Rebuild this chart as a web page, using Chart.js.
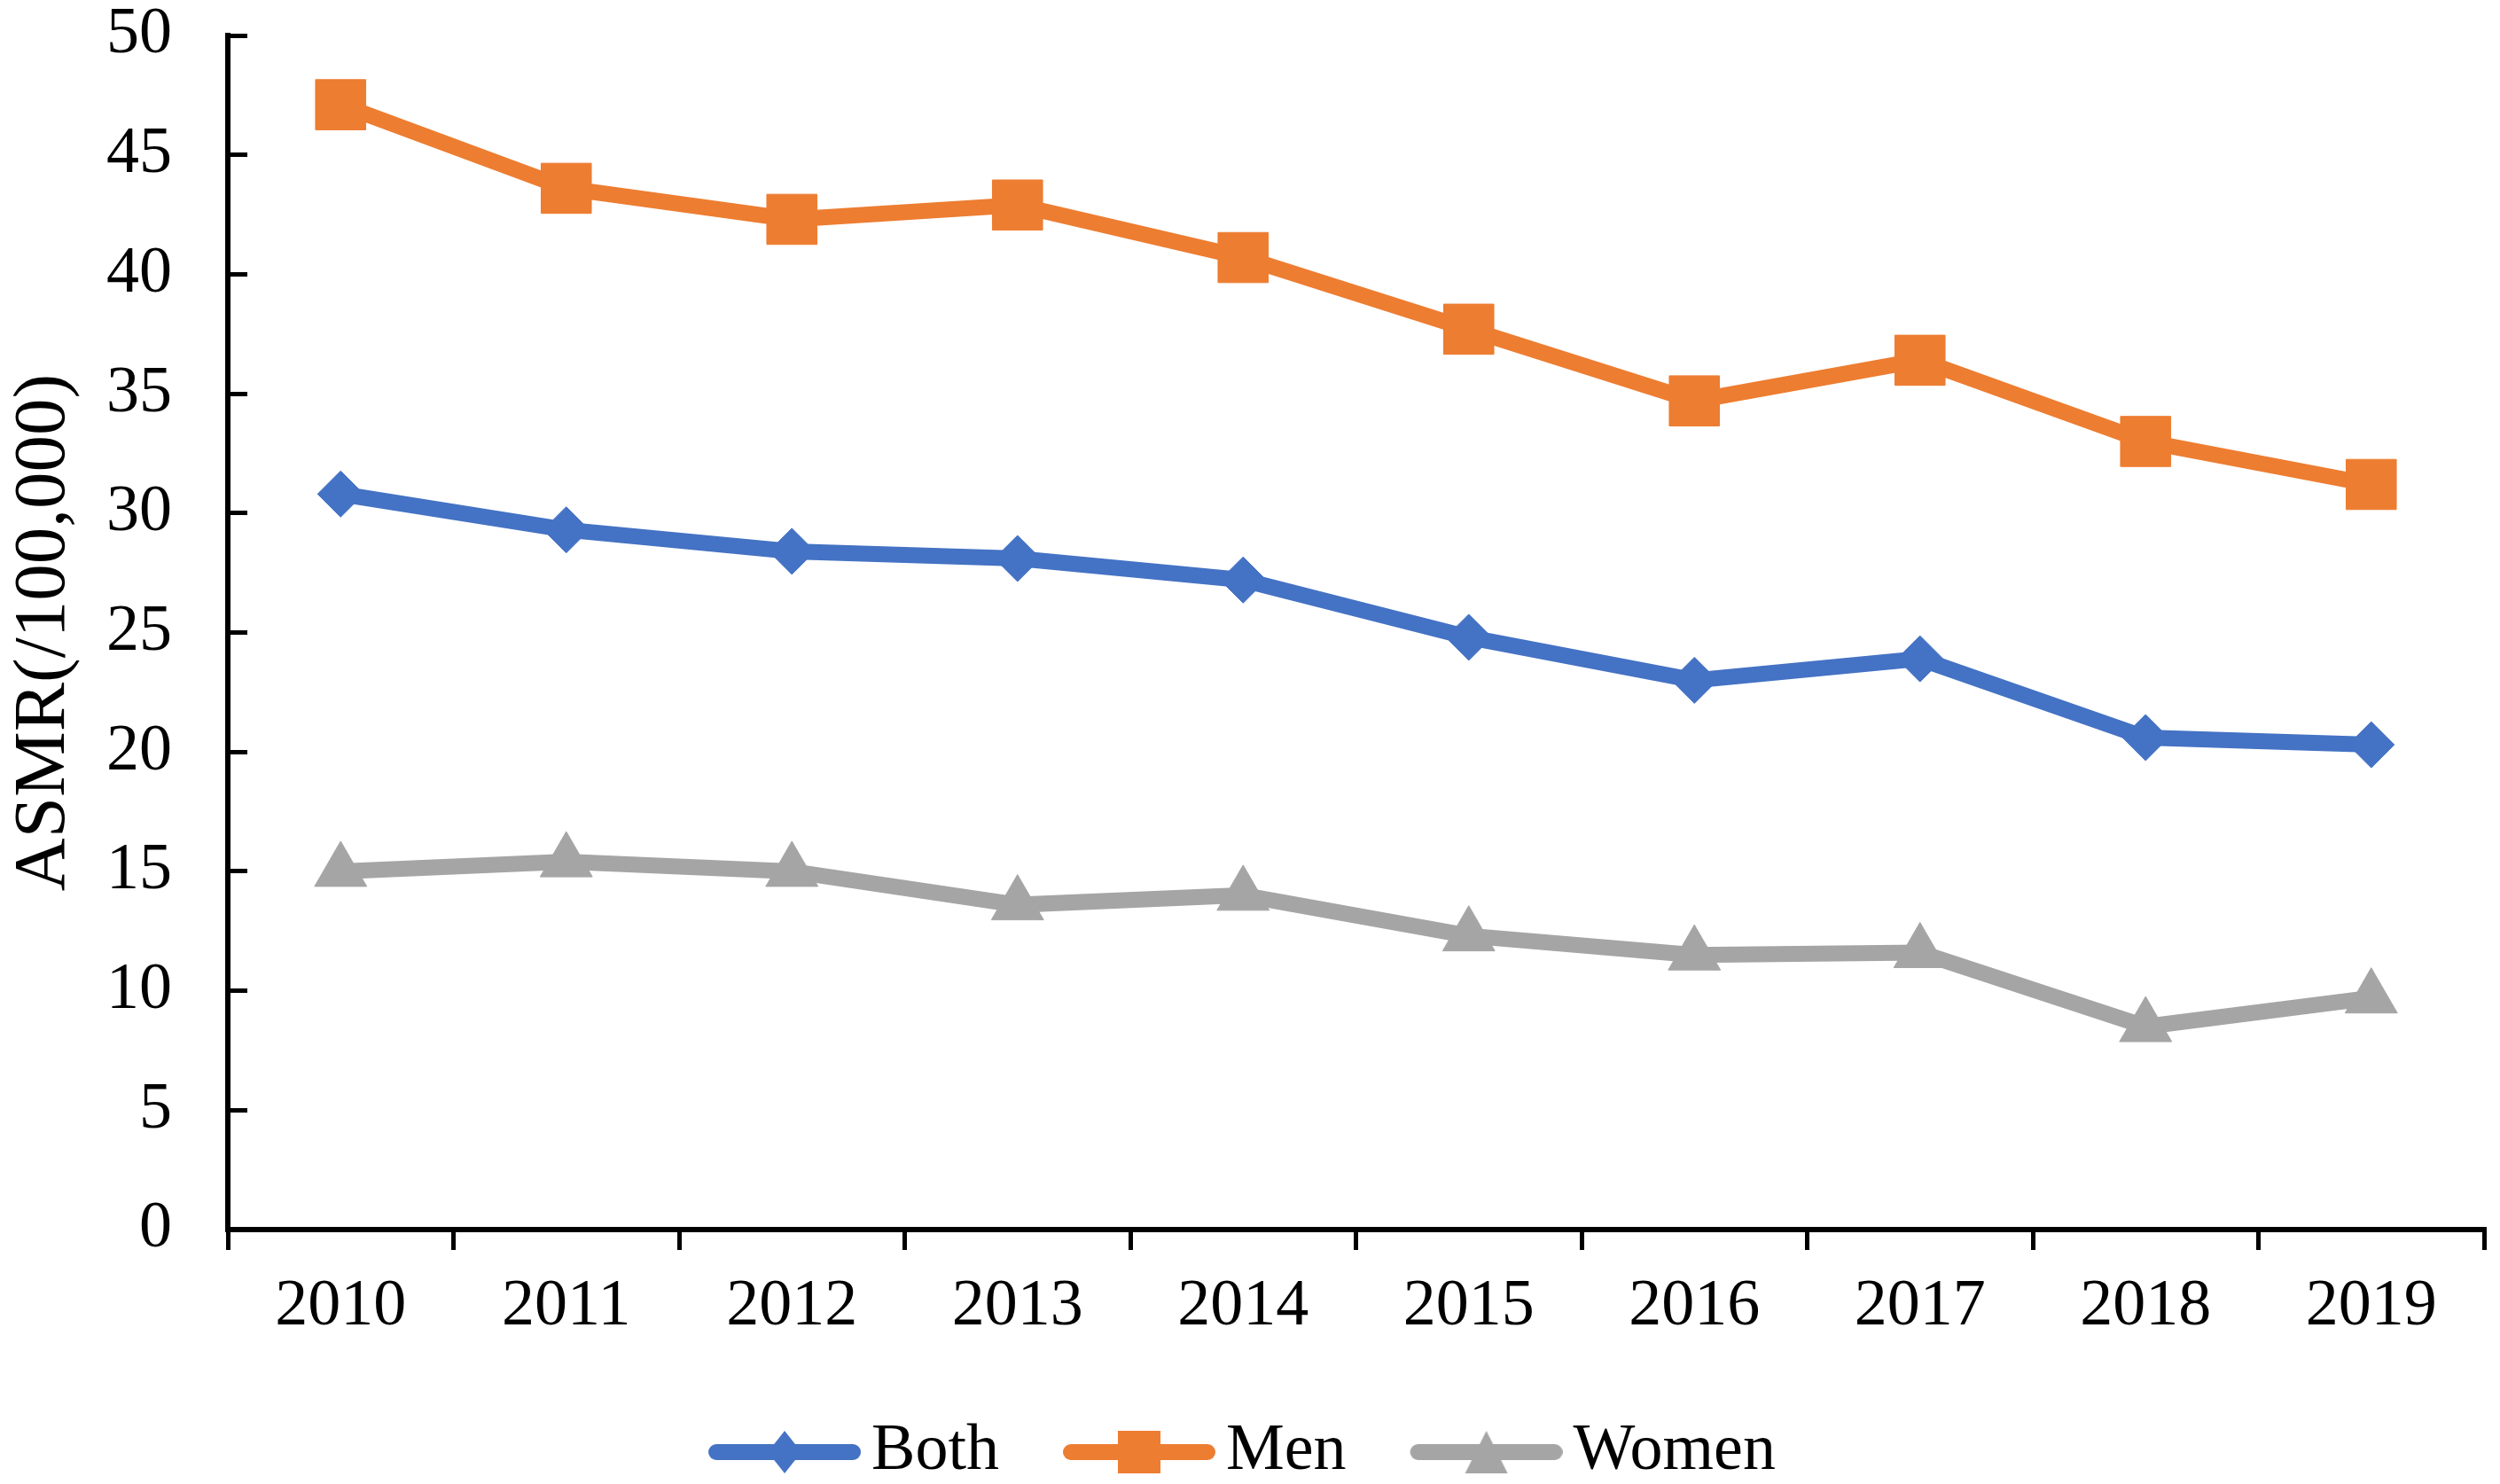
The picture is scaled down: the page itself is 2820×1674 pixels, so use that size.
<!DOCTYPE html>
<html>
<head>
<meta charset="utf-8">
<title>ASMR 2010-2019</title>
<script src="https://cdn.jsdelivr.net/npm/chart.js@4.4.1/dist/chart.umd.min.js"></script>
<style>
  html, body { margin: 0; padding: 0; background: #ffffff; }
  #grafico { display: block; }
</style>
</head>
<body>
<canvas id="grafico" width="2820" height="1674"></canvas>
<script>
// data
const years = ["2010", "2011", "2012", "2013", "2014", "2015", "2016", "2017", "2018", "2019"];
const both = [30.8, 29.3, 28.4, 28.1, 27.2, 24.8, 23.0, 23.9, 20.6, 20.3];
const men = [47.1, 43.6, 42.3, 42.9, 40.7, 37.7, 34.7, 36.4, 33.0, 31.2];
const women = [15.0, 15.4, 15.0, 13.6, 14.0, 12.3, 11.5, 11.6, 8.5, 9.7];
const seriesNames = ["Both", "Men", "Women"];
const yMin = 0;
const yMax = 50;
const yStep = 5;

const BLUE = "#4472C4";
const ORANGE = "#ED7D31";
const GRAY = "#A5A5A5";

Chart.defaults.font.family = "'Liberation Serif', 'Times New Roman', serif";
Chart.defaults.color = "#000000";

// line + marker picture for the legend (left part is left transparent
// so the picture lines up with the legend box)
function legendIcon(color, shape) {
    const c = document.createElement("canvas");
    c.width = 197;
    c.height = 56;
    const ctx = c.getContext("2d");
    const x0 = 25;
    const mid = x0 + 86;
    ctx.strokeStyle = color;
    ctx.fillStyle = color;
    ctx.lineWidth = 18;
    ctx.lineCap = "round";
    ctx.beginPath();
    ctx.moveTo(x0 + 9, 28);
    ctx.lineTo(x0 + 163, 28);
    ctx.stroke();

    ctx.beginPath();
    if (shape === "diamond") {
        ctx.moveTo(mid, 4);
        ctx.lineTo(mid + 19, 28);
        ctx.lineTo(mid, 52);
        ctx.lineTo(mid - 19, 28);
    } else if (shape === "square") {
        ctx.rect(mid - 24, 4, 48, 48);
    } else {
        ctx.moveTo(mid, 4);
        ctx.lineTo(mid + 24, 52);
        ctx.lineTo(mid - 24, 52);
    }
    ctx.closePath();
    ctx.fill();
    return c;
}

const icons = [
    legendIcon(BLUE, "diamond"),
    legendIcon(ORANGE, "square"),
    legendIcon(GRAY, "triangle")
];

function dataset(label, values, color, style, radius) {
    return {
        label: label,
        data: values,
        borderColor: color,
        backgroundColor: color,
        borderWidth: 18,
        pointStyle: style,
        pointRadius: radius,
        pointHoverRadius: radius,
        pointBackgroundColor: color,
        pointBorderColor: color,
        pointBorderWidth: 1,
        tension: 0
    };
}

const ctx = document.getElementById("grafico").getContext("2d");

const grafico = new Chart(ctx, {
    type: "line",
    data: {
        labels: years,
        datasets: [
            dataset(seriesNames[0], both, BLUE, "rectRot", 26),
            dataset(seriesNames[1], men, ORANGE, "rect", 40),
            dataset(seriesNames[2], women, GRAY, "triangle", 34)
        ]
    },
    options: {
        responsive: false,
        animation: false,
        devicePixelRatio: 1,
        layout: {
            autoPadding: false,
            padding: { top: 40, right: 18, bottom: 0, left: 0 }
        },
        plugins: {
            tooltip: { enabled: false },
            legend: {
                position: "bottom",
                maxHeight: 145,
                labels: {
                    usePointStyle: true,
                    pointStyleWidth: 147,
                    boxHeight: 56,
                    padding: 72,
                    color: "#000000",
                    font: { size: 74 },
                    generateLabels: (chart) => {
                        const items = Chart.defaults.plugins.legend.labels.generateLabels(chart);
                        items.forEach((it, i) => { it.pointStyle = icons[i]; });
                        return items;
                    }
                }
            }
        },
        scales: {
            x: {
                offset: true,
                afterFit: (axis) => {
                    axis.height = 142;
                    axis.paddingLeft = 0;
                    axis.paddingRight = 0;
                },
                border: { display: true, color: "#000000", width: 6 },
                grid: {
                    offset: true,
                    drawOnChartArea: false,
                    drawTicks: true,
                    tickLength: 23,
                    color: "#000000",
                    lineWidth: 5
                },
                ticks: {
                    padding: 28,
                    maxRotation: 0,
                    font: { size: 74, lineHeight: 1 }
                }
            },
            y: {
                min: yMin,
                max: yMax,
                afterFit: (axis) => {
                    axis.width = 257;
                    axis.paddingTop = 0;
                    axis.paddingBottom = 0;
                },
                border: { display: true, color: "#000000", width: 6 },
                grid: {
                    drawOnChartArea: false,
                    drawTicks: true,
                    tickLength: -22,
                    color: "#000000",
                    lineWidth: 5
                },
                ticks: {
                    stepSize: yStep,
                    padding: 85,
                    font: { size: 74, lineHeight: 1 }
                },
                title: {
                    display: true,
                    text: "ASMR(/100,000)",
                    font: { size: 83 },
                    padding: { top: 0, bottom: 20 }
                }
            }
        }
    }
});
</script>
</body>
</html>
